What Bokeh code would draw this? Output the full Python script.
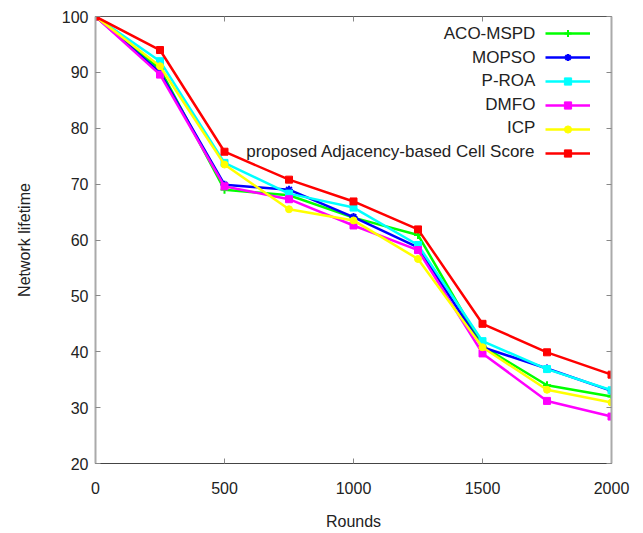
from bokeh.plotting import figure
from bokeh.models import LinearAxis, Legend, LegendItem, Range1d, FixedTicker, Label
from bokeh.embed import file_html
from bokeh.resources import INLINE

rounds = [0, 250, 500, 750, 1000, 1250, 1500, 1750, 2000]
aco_mspd = [100, 90.6, 69.0, 68.0, 64.0, 60.9, 41.0, 34.0, 32.0]
mopso = [100, 90.0, 69.9, 69.0, 64.1, 58.7, 40.8, 37.0, 33.0]
p_roa = [100, 92.0, 73.8, 68.3, 65.8, 59.1, 41.9, 36.9, 33.1]
dmfo = [100, 89.6, 69.6, 67.3, 62.6, 58.2, 39.7, 31.2, 28.4]
icp = [100, 91.1, 73.5, 65.5, 63.5, 56.6, 40.8, 33.2, 30.9]
proposed = [100, 94.0, 75.8, 70.8, 66.9, 61.9, 45.0, 39.9, 35.9]

series_names = ["ACO-MSPD", "MOPSO", "P-ROA", "DMFO", "ICP",
                "proposed Adjacency-based Cell Score"]

x_ticks = [0, 500, 1000, 1500, 2000]
y_ticks = [20, 30, 40, 50, 60, 70, 80, 90, 100]

FONT = "Liberation Sans"

p = figure(width=635, height=533, output_backend="svg", toolbar_location=None,
           x_range=Range1d(0, 2000), y_range=Range1d(20, 100),
           min_border_left=95, min_border_right=24, min_border_top=16, min_border_bottom=70)
p.xgrid.visible = False
p.ygrid.visible = False
p.outline_line_color = "#555555"
p.outline_line_width = 1

for ax in (p.xaxis[0], p.yaxis[0]):
    ax.major_label_text_font = FONT
    ax.major_label_text_font_size = "16px"
    ax.major_label_text_color = "#222222"
    ax.axis_label_text_font = FONT
    ax.axis_label_text_font_size = "16px"
    ax.axis_label_text_font_style = "normal"
    ax.axis_label_text_color = "#222222"
    ax.major_tick_in = 5
    ax.major_tick_out = 0
    ax.minor_tick_line_color = None
    ax.major_tick_line_color = "#888888"

p.xaxis[0].ticker = FixedTicker(ticks=x_ticks)
p.yaxis[0].ticker = FixedTicker(ticks=y_ticks)
p.xaxis[0].axis_label = "Rounds"
p.yaxis[0].axis_label = "Network lifetime"
p.xaxis[0].axis_line_color = "#444444"
p.yaxis[0].axis_line_color = "#aaaaaa"
p.yaxis[0].axis_line_width = 2
p.xaxis[0].major_label_standoff = 18
p.yaxis[0].major_label_standoff = 7
p.xaxis[0].axis_label_standoff = 16
p.yaxis[0].axis_label_standoff = 26

# mirrored ticks on top and right (no labels)
top_ax = LinearAxis(ticker=FixedTicker(ticks=x_ticks),
                    major_label_overrides={t: "" for t in x_ticks},
                    axis_line_color=None, major_tick_in=5, major_tick_out=0,
                    major_tick_line_color="#888888", minor_tick_line_color=None,
                    major_label_standoff=0)
right_ax = LinearAxis(ticker=FixedTicker(ticks=y_ticks),
                      major_label_overrides={t: "" for t in y_ticks},
                      axis_line_color="#aaaaaa", axis_line_width=2, major_tick_in=5, major_tick_out=0,
                      major_tick_line_color="#888888", minor_tick_line_color=None,
                      major_label_standoff=0)
p.add_layout(top_ax, "above")
p.add_layout(right_ax, "right")

series = [
    (aco_mspd, "#00ff00", "cross"),
    (mopso, "#0000ff", "asterisk"),
    (p_roa, "#00ffff", "square"),
    (dmfo, "#ff00ff", "square"),
    (icp, "#ffff00", "circle"),
    (proposed, "#ff0000", "square"),
]

items = []
for (vals, color, marker) in series:
    r1 = p.line(rounds, vals, line_color=color, line_width=2.5)
    if marker in ("cross", "asterisk"):
        r2 = p.scatter(rounds, vals, marker=marker, size=8, line_color=color, line_width=2)
    else:
        r2 = p.scatter(rounds, vals, marker=marker, size=7, fill_color=color, line_color=color)
    items.append(LegendItem(label=" ", renderers=[r1, r2]))

legend = Legend(items=items, location=(450, 301), border_line_color=None,
                background_fill_alpha=0, label_text_font=FONT, label_text_font_size="16px",
                label_standoff=0, glyph_width=45, glyph_height=18, label_height=18,
                spacing=6, padding=4, margin=0)
p.add_layout(legend)

# right-aligned legend texts, placed to the left of each legend glyph
label_rows_y = [96.96, 92.74, 88.52, 84.30, 80.07, 75.85]
for name, ly in zip(series_names, label_rows_y):
    p.add_layout(Label(x=1705, y=ly, text=name, text_align="right", text_baseline="middle",
                       text_font=FONT, text_font_size="17px", text_color="#222222"))

out = open("out.html", "w")
out.write(file_html(p, INLINE))
out.close()
